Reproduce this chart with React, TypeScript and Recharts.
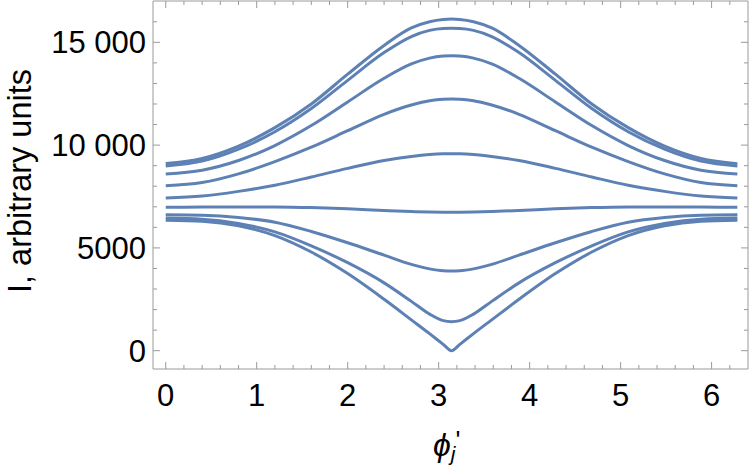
import React from 'react'
import { Line, LineChart, XAxis, YAxis } from 'recharts'

const phi = [0, 0.4, 0.8, 1.2, 1.6, 2.0, 2.4, 2.7, 2.9, 3.05, 3.1416, 3.233, 3.383, 3.583, 3.883, 4.283, 4.683, 5.083, 5.483, 5.883, 6.2832]

const c1 = [9100, 9350, 9950, 10850, 12000, 13450, 14850, 15700, 16000, 16110, 16130, 16110, 16000, 15700, 14850, 13450, 12000, 10850, 9950, 9350, 9100]
const c2 = [8980, 9220, 9800, 10650, 11780, 13150, 14500, 15280, 15580, 15670, 15680, 15670, 15580, 15280, 14500, 13150, 11780, 10650, 9800, 9220, 8980]
const c3 = [8590, 8780, 9250, 9980, 10950, 12100, 13250, 13950, 14230, 14330, 14350, 14330, 14230, 13950, 13250, 12100, 10950, 9980, 9250, 8780, 8590]
const c4 = [8025, 8180, 8600, 9200, 9900, 10700, 11500, 11950, 12160, 12230, 12240, 12230, 12160, 11950, 11500, 10700, 9900, 9200, 8600, 8180, 8025]
const c5 = [7427, 7520, 7750, 8050, 8450, 8870, 9250, 9450, 9540, 9575, 9580, 9575, 9540, 9450, 9250, 8870, 8450, 8050, 7750, 7520, 7427]
const c6 = [6975, 6985, 6995, 6990, 6960, 6900, 6820, 6770, 6745, 6733, 6730, 6733, 6745, 6770, 6820, 6900, 6960, 6990, 6995, 6985, 6975]
const c7 = [6615, 6590, 6480, 6250, 5800, 5250, 4650, 4200, 3980, 3890, 3880, 3890, 3980, 4200, 4650, 5250, 5800, 6250, 6480, 6590, 6615]
const c8 = [6450, 6400, 6190, 5780, 5100, 4280, 3300, 2400, 1780, 1462, 1410, 1462, 1780, 2400, 3300, 4280, 5100, 5780, 6190, 6400, 6450]
const c9 = [6350, 6300, 6080, 5600, 4800, 3750, 2500, 1500, 830, 310, 0, 310, 830, 1500, 2500, 3750, 4800, 5600, 6080, 6300, 6350]

const curves = [c1, c2, c3, c4, c5, c6, c7, c8, c9]

// every 0.2 on x, every 1000 on y; labels only on the majors
const xTicks = Array.from({ length: 32 }, (_, i) => Math.round(i * 2) / 10)
const yTicks = Array.from({ length: 17 }, (_, i) => i * 1000)

const data = phi.map((x, i) => {
  const row: any = { x }
  curves.forEach((c, k) => { row['c' + (k + 1)] = c[i] })
  return row
})

const GRAY = '#9a9a9a'
const BLUE = '#5E81B5'
const FONT = '"Liberation Sans", Arial, sans-serif'

const fmtY = (v: number) => (v >= 10000 ? String(v).slice(0, -3) + ' ' + String(v).slice(-3) : String(v))

const BottomTick = ({ x, y, payload }: any) => {
  const major = Number.isInteger(payload.value)
  return (
    <g>
      <line x1={x} x2={x} y1={y} y2={y - (major ? 7 : 4)} stroke={GRAY} />
      {major && (
        <text x={x} y={y + 37} textAnchor="middle" fontSize={31} fontFamily={FONT} fill="#000">
          {payload.value}
        </text>
      )}
    </g>
  )
}

const TopTick = ({ x, y, payload }: any) => {
  const major = Number.isInteger(payload.value)
  return <line x1={x} x2={x} y1={y} y2={y + (major ? 7 : 4)} stroke={GRAY} />
}

const LeftTick = ({ x, y, payload }: any) => {
  const major = payload.value % 5000 === 0
  return (
    <g>
      <line x1={x} x2={x + (major ? 7 : 4)} y1={y} y2={y} stroke={GRAY} />
      {major && (
        <text x={x - 7} y={y + 11} textAnchor="end" fontSize={31} fontFamily={FONT} fill="#000">
          {fmtY(payload.value)}
        </text>
      )}
    </g>
  )
}

const RightTick = ({ x, y, payload }: any) => {
  const major = payload.value % 5000 === 0
  return <line x1={x} x2={x - (major ? 7 : 4)} y1={y} y2={y} stroke={GRAY} />
}

export default function App() {
  return (
    <div style={{ position: 'absolute', left: 0, top: 0 }}>
      <LineChart width={750} height={467} data={data} margin={{ top: 0, right: 1, left: 152, bottom: 97 }}>
        <XAxis xAxisId="b" dataKey="x" type="number" domain={[-0.14, 6.4]} allowDataOverflow ticks={xTicks} interval={0}
          height={1} tickSize={0} tickMargin={0} tickLine={false} axisLine={{ stroke: GRAY }} tick={<BottomTick />} />
        <XAxis xAxisId="t" orientation="top" dataKey="x" type="number" domain={[-0.14, 6.4]} allowDataOverflow ticks={xTicks} interval={0}
          height={1} tickSize={0} tickMargin={0} tickLine={false} axisLine={{ stroke: GRAY }} tick={<TopTick />} />
        <YAxis yAxisId="l" type="number" domain={[-890, 17010]} allowDataOverflow ticks={yTicks} interval={0}
          width={1} tickSize={0} tickMargin={0} tickLine={false} axisLine={{ stroke: GRAY }} tick={<LeftTick />} />
        <YAxis yAxisId="r" orientation="right" type="number" domain={[-890, 17010]} allowDataOverflow ticks={yTicks} interval={0}
          width={1} tickSize={0} tickMargin={0} tickLine={false} axisLine={{ stroke: GRAY }} tick={<RightTick />} />
        {curves.map((_, k) => (
          <Line key={k} xAxisId="b" yAxisId="l" type="monotone" dataKey={'c' + (k + 1)} stroke={BLUE} strokeWidth={3}
            dot={false} isAnimationActive={false} />
        ))}
        <text x={31} y={181} transform="rotate(-90 31 181)" textAnchor="middle" fontSize={32.5} fontFamily={FONT} fill="#000">
          I, arbitrary units
        </text>
        <text x={433} y={456} fontSize={32} fontFamily={FONT} fill="#000">
          <tspan fontStyle="italic">ϕ</tspan>
          <tspan fontStyle="italic" fontSize={21} dy={5}>j</tspan>
          <tspan fontSize={26} dy={-12}>'</tspan>
        </text>
      </LineChart>
    </div>
  )
}
